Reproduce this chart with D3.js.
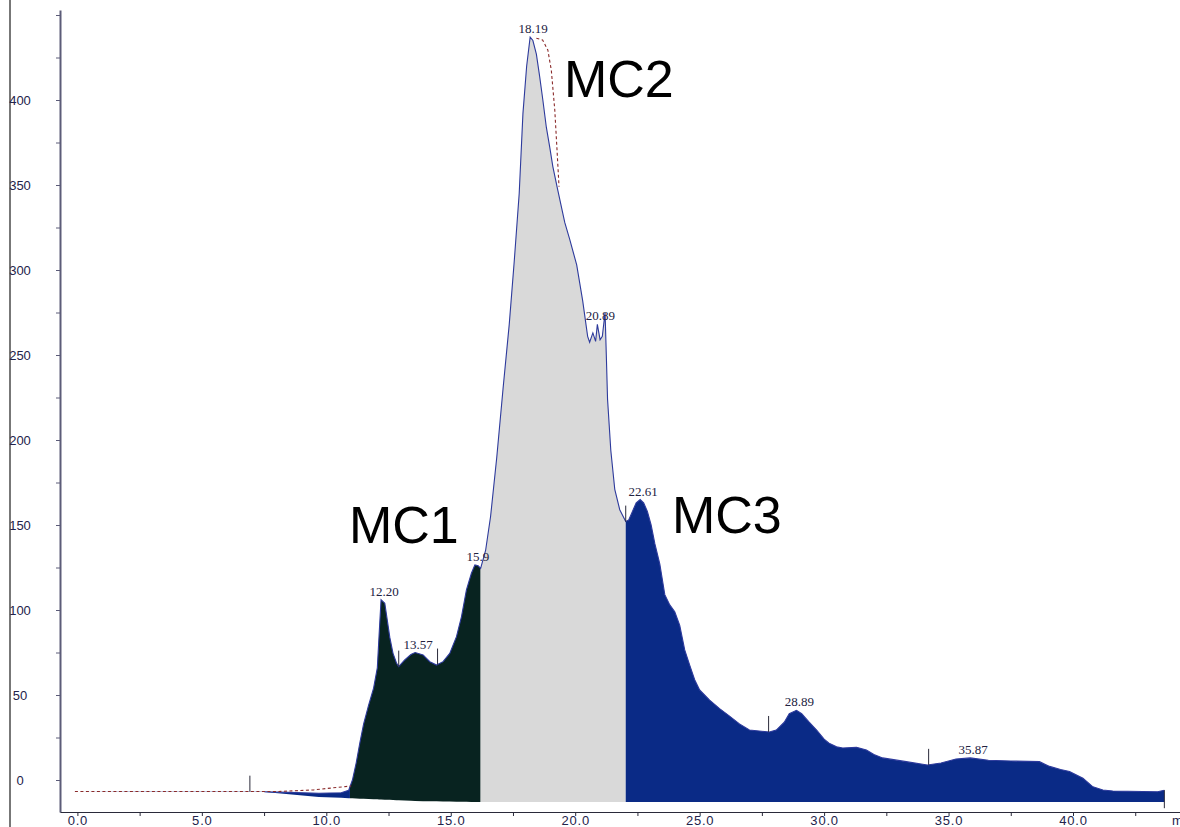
<!DOCTYPE html>
<html>
<head>
<meta charset="utf-8">
<script src="https://cdn.jsdelivr.net/npm/d3@7"></script>
<style>
  html, body { margin: 0; padding: 0; background: #fff; overflow: hidden; }
  svg { display: block; }
</style>
</head>
<body>
<svg id="chart" width="1180" height="827"></svg>
<script>
// Elution profile: retention time (min) and detector signal (mAU)
const trace = [
  [-0.1, -6.8], [2.0, -6.8], [4.0, -6.8], [6.0, -6.8], [7.5, -6.9], [8.5, -7.3],
  [9.7, -7.8], [10.6, -7.5], [10.9, -6.0], [11.05, 0], [11.2, 10], [11.35, 22],
  [11.5, 33], [11.7, 44], [11.9, 54], [12.05, 66], [12.12, 85], [12.20, 106],
  [12.35, 104], [12.45, 94],
  [12.55, 84], [12.68, 74.5], [12.82, 68.8], [12.91, 66.7], [13.15, 70.6],
  [13.4, 73.8], [13.57, 75], [13.89, 73.5], [14.16, 69.6], [14.43, 67.6],
  [14.69, 69.6], [14.96, 74.5], [15.23, 84.3], [15.43, 96], [15.63, 111.8],
  [15.83, 121.6], [15.97, 126.5], [16.1, 126], [16.2, 124.5],
  [16.4, 135], [16.6, 155], [16.85, 190], [17.1, 230], [17.35, 268], [17.55, 305],
  [17.75, 345], [17.9, 392], [18.05, 420], [18.19, 437], [18.3, 435], [18.44, 427],
  [18.57, 414], [18.7, 400], [18.84, 384], [18.98, 372], [19.1, 361], [19.3, 347],
  [19.58, 328], [19.78, 318], [20.06, 303], [20.3, 282], [20.5, 261], [20.58, 257.5],
  [20.71, 263], [20.82, 258], [20.89, 268], [21.0, 259], [21.09, 261], [21.2, 275],
  [21.25, 250], [21.3, 224], [21.43, 194], [21.59, 171], [21.79, 159], [22.03, 152],
  [22.15, 153], [22.3, 158], [22.45, 163], [22.61, 165], [22.75, 163], [22.9, 158],
  [23.05, 150], [23.2, 139], [23.4, 127], [23.6, 109], [23.8, 103], [24.0, 99],
  [24.2, 91], [24.4, 76.5], [24.6, 67.6], [24.8, 59], [25.0, 53], [25.4, 47],
  [25.8, 42], [26.2, 37.6], [26.6, 33], [27.0, 29.4], [27.8, 28.2], [28.08, 29.4],
  [28.4, 34], [28.6, 39], [28.89, 41], [29.1, 39], [29.4, 34], [29.7, 29.4],
  [30.0, 24], [30.2, 21.6], [30.5, 19.5], [30.75, 18.8], [31.3, 19.2], [31.7, 17.6],
  [32.0, 15], [32.35, 13], [33.3, 10.8], [34.15, 8.8], [34.7, 10], [35.3, 12.4],
  [35.87, 13], [36.6, 11.6], [37.5, 11.2], [38.65, 10.8], [39.06, 8], [39.5, 6.2],
  [39.86, 5], [40.4, 1], [40.8, -4], [41.2, -5.9], [41.6, -6.5], [43.4, -6.9],
  [43.67, -6.0]
];

// Drifting lower edge of the integrated area
const floorLine = [
  [-0.1, -6.8], [7.5, -7.0], [9.74, -10.0], [11.75, -11.2], [13.75, -12.4],
  [16.2, -13.0], [43.67, -13.0]
];

// Integration baseline and fitted tail of the main peak
const baselineDashes = [[-0.1, -6.8], [8.0, -6.8], [9.5, -5.8], [11.0, -3.5]];
const tailDashes = [
  [18.44, 436.3], [18.69, 435.3], [18.9, 429.4], [19.04, 417.6], [19.18, 394],
  [19.27, 370.6], [19.35, 349]
];

// Start of the collected window and fraction cut points
const collectStart = 10.95;
const fractionCuts = [16.2, 22.03];
const fractionNames = ["MC1", "MC2", "MC3"];

// Peak apex retention times and printed labels
const peakTimes = [12.20, 13.57, 15.97, 18.19, 20.89, 22.61, 28.89, 35.87];
const peakLabels = ["12.20", "13.57", "15.9", "18.19", "20.89", "22.61", "28.89", "35.87"];

// Peak start/end markers (min)
const markerTimes = [6.93, 12.91, 14.47, 22.03, 27.77, 34.2];

// Axis ticks
const yTicks = d3.range(0, 451, 25);
const xTicks = d3.range(0, 44, 2.5);

const svg = d3.select("#chart");

const x = d3.scaleLinear().domain([0, 40]).range([77.4, 1073]);
x.domain([x.invert(60), x.invert(1180)]).range([60, 1180]);
const y = d3.scaleLinear().domain([0, 400]).range([780, 100]);
y.domain([y.invert(812), y.invert(10)]).range([812, 10]);

const floorAt = d3.scaleLinear()
  .domain(floorLine.map(d => d[0]))
  .range(floorLine.map(d => d[1]))
  .clamp(true);

const signalAt = d3.scaleLinear()
  .domain(trace.map(d => d[0]))
  .range(trace.map(d => d[1]));

// Outer frame line on the left
svg.append("line")
  .attr("x1", 10).attr("x2", 10).attr("y1", 0).attr("y2", 827)
  .attr("stroke", "#4a4a4a").attr("stroke-width", 1.5);

// Filled areas: drift region, then the three fractions
const area = d3.area()
  .x(d => x(d[0]))
  .y0(d => y(Math.min(floorAt(d[0]), d[1])))
  .y1(d => y(d[1]));

function segment(from, to) {
  const inner = trace.filter(d => d[0] > from && d[0] < to);
  return [[from, signalAt(from)], ...inner, [to, signalAt(to)]];
}

const bounds = [collectStart, ...fractionCuts, trace[trace.length - 1][0]];
const fills = ["#082320", "#d9d9d9", "#0a2a86"];

svg.append("path")
  .datum(segment(trace[0][0], collectStart))
  .attr("d", area)
  .attr("fill", "#0a2a86");

fractionNames.forEach((name, i) => {
  svg.append("path")
    .datum(segment(bounds[i], bounds[i + 1]))
    .attr("d", area)
    .attr("fill", fills[i]);
});

// Signal trace (from the first marker onward; the flat lead-in sits under the baseline)
svg.append("path")
  .datum(trace.filter(d => d[0] >= 6.9))
  .attr("d", d3.line().x(d => x(d[0])).y(d => y(d[1])))
  .attr("fill", "none")
  .attr("stroke", "#2d3a9c")
  .attr("stroke-width", 1.1);

// Dashed baseline and tail fit
const dashLine = d3.line().x(d => x(d[0])).y(d => y(d[1]));
[baselineDashes, tailDashes].forEach(pts => {
  svg.append("path")
    .datum(pts)
    .attr("d", dashLine)
    .attr("fill", "none")
    .attr("stroke", "#8a2a2a")
    .attr("stroke-width", 1.1)
    .attr("stroke-dasharray", "3,2.5");
});

// Peak markers
svg.selectAll("line.marker")
  .data(markerTimes)
  .join("line")
  .attr("class", "marker")
  .attr("x1", d => x(d)).attr("x2", d => x(d))
  .attr("y1", d => y(signalAt(d)))
  .attr("y2", d => y(signalAt(d)) - 16)
  .attr("stroke", "#2a2a3a").attr("stroke-width", 1);

// End-of-run marker
const last = trace[trace.length - 1];
svg.append("line")
  .attr("x1", x(last[0])).attr("x2", x(last[0]))
  .attr("y1", y(last[1])).attr("y2", y(last[1]) + 18)
  .attr("stroke", "#2a2a3a").attr("stroke-width", 1);

// Peak retention-time labels
svg.selectAll("text.peak")
  .data(peakTimes)
  .join("text")
  .attr("class", "peak")
  .attr("x", d => x(d) + 3)
  .attr("y", d => y(signalAt(d)) - 4)
  .attr("text-anchor", "middle")
  .attr("font-family", "'Liberation Serif', 'DejaVu Serif', serif")
  .attr("font-size", 13)
  .attr("fill", "#22223f")
  .text((d, i) => peakLabels[i]);

// Axes
const yAxis = svg.append("g")
  .attr("transform", "translate(60,0)")
  .call(d3.axisLeft(y).tickValues(yTicks)
    .tickFormat(d => d % 50 === 0 && d <= 400 ? d : "")
    .tickSize(4).tickSizeOuter(0));
yAxis.select(".domain").attr("stroke", "#5c5c78").attr("stroke-width", 2);
yAxis.selectAll(".tick line").attr("stroke", "#5c5c78");
yAxis.selectAll(".tick text")
  .attr("x", -40).attr("dy", "0.35em")
  .attr("text-anchor", "middle")
  .attr("font-family", "'Liberation Sans', Arial, sans-serif")
  .attr("font-size", 13)
  .attr("fill", "#23234a");

const xAxis = svg.append("g")
  .attr("transform", "translate(0,812)")
  .call(d3.axisBottom(x).tickValues(xTicks)
    .tickFormat(d => d % 5 === 0 ? d.toFixed(1) : "")
    .tickSize(4).tickSizeOuter(0));
xAxis.select(".domain").attr("stroke", "#2a2a3a").attr("stroke-width", 1.2);
xAxis.selectAll(".tick line").attr("stroke", "#2a2a3a");
xAxis.selectAll(".tick text")
  .attr("y", 13).attr("dy", "0")
  .attr("font-family", "'Liberation Sans', Arial, sans-serif")
  .attr("font-size", 13)
  .attr("letter-spacing", 0.8)
  .attr("fill", "#23234a");
svg.append("text")
  .attr("x", 1172).attr("y", 825)
  .attr("font-family", "'Liberation Sans', Arial, sans-serif")
  .attr("font-size", 13)
  .attr("fill", "#23234a")
  .text("min");

// Fraction names
const namePos = [[349, 543], [564, 97], [672, 533]];
svg.selectAll("text.fraction")
  .data(fractionNames)
  .join("text")
  .attr("class", "fraction")
  .attr("x", (d, i) => namePos[i][0])
  .attr("y", (d, i) => namePos[i][1])
  .attr("font-family", "'Liberation Sans', Arial, sans-serif")
  .attr("font-size", 52)
  .attr("fill", "#000")
  .text(d => d);
</script>
</body>
</html>
